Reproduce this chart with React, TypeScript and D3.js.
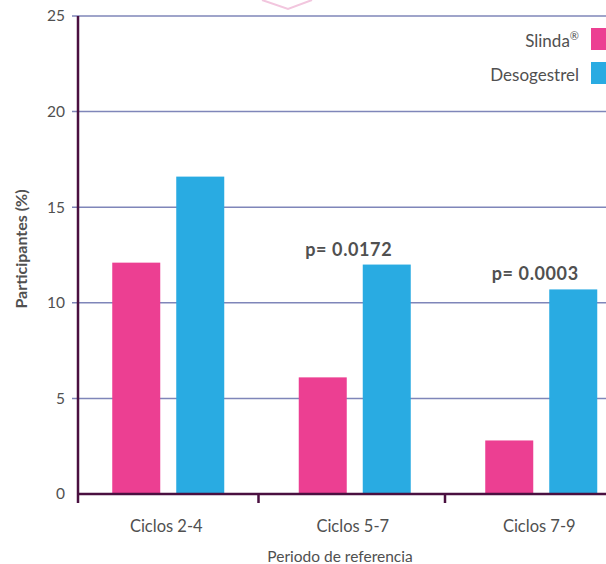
import React from "react";
import * as d3 from "d3";

const categories = ["Ciclos 2-4", "Ciclos 5-7", "Ciclos 7-9"];
const series = ["Slinda®", "Desogestrel"];
const slindaValues = [12.1, 6.1, 2.8];
const desogestrelValues = [16.6, 12.0, 10.7];
const pLabels = ["", "p= 0.0172", "p= 0.0003"];
const yTicks = [0, 5, 10, 15, 20, 25];

const colors: Record<string, string> = {
  "Slinda®": "#ec3f92",
  Desogestrel: "#29abe2",
};

const W = 606;
const H = 564;
const font = "Lato, 'Open Sans', sans-serif";
const textColor = "#505050";
const axisColor = "#4a1040";
const gridColor = "#7f86b9";

export default function App() {
  const y = d3.scaleLinear().domain([0, 25]).range([494, 16]);
  const x = d3.scaleBand<string>().domain(categories).range([75, 634.5]).padding(0);
  const groupW = 112;
  const inner = d3.scaleBand<string>().domain(series).range([0, groupW]).paddingInner(0.25).paddingOuter(0);
  const axisX = 78;
  const y0 = y(0);

  const rows = categories.map((c, i) => ({
    cat: c,
    vals: [slindaValues[i], desogestrelValues[i]],
    p: pLabels[i],
  }));

  const groupStart = (c: string) => (x(c) ?? 0) + (x.step() - groupW) / 2;

  return (
    <svg width={W} height={H} style={{ position: "absolute", left: 0, top: 0, background: "#fff" }} fontFamily={font}>
      {/* faint logo fragment at the top */}
      <polyline points="262,0 288,9 312,0" fill="none" stroke="#f2c6de" strokeWidth={2} />

      {/* gridlines + y tick labels */}
      {yTicks.map((t) => (
        <g key={t}>
          {t > 0 && (
            <line x1={72} x2={W} y1={y(t)} y2={y(t)} stroke={gridColor} strokeWidth={1.5} />
          )}
          <text x={65} y={y(t)} dy="0.35em" textAnchor="end" fontSize={15.5} fill={textColor}>
            {t}
          </text>
        </g>
      ))}

      {/* bars */}
      {rows.map((r) => (
        <g key={r.cat} transform={`translate(${groupStart(r.cat)},0)`}>
          {series.map((s, j) => (
            <rect
              key={s}
              x={inner(s)}
              y={y(r.vals[j])}
              width={inner.bandwidth()}
              height={y0 - y(r.vals[j])}
              fill={colors[s]}
            />
          ))}
          {r.p && (
            <text
              x={groupW / 2 - 6}
              y={y(r.vals[1]) - 9}
              textAnchor="middle"
              fontSize={18}
              letterSpacing={0.6}
              fontWeight="bold"
              fill={textColor}
            >
              {r.p}
            </text>
          )}
        </g>
      ))}

      {/* axes */}
      <line x1={axisX} x2={axisX} y1={y(25)} y2={y0 + 9} stroke={axisColor} strokeWidth={2.5} />
      <line x1={axisX} x2={W} y1={y0} y2={y0} stroke={axisColor} strokeWidth={2.5} />
      {categories.slice(1).map((c) => (
        <line key={c} x1={(x(c) ?? 0) - 3} x2={(x(c) ?? 0) - 3} y1={y0} y2={y0 + 9} stroke={axisColor} strokeWidth={2.5} />
      ))}

      {/* category labels */}
      {categories.map((c) => (
        <text key={c} x={groupStart(c) + groupW / 2 - 2} y={532} textAnchor="middle" fontSize={16.5} fill={textColor}>
          {c}
        </text>
      ))}

      {/* axis titles */}
      <text x={340} y={562} textAnchor="middle" fontSize={15.5} fill={textColor}>
        Periodo de referencia
      </text>
      <text
        transform={`translate(27,${249}) rotate(-90)`}
        textAnchor="middle"
        fontSize={16}
        fontWeight="bold"
        fill={textColor}
      >
        Participantes (%)
      </text>

      {/* legend */}
      {series.map((s, i) => (
        <g key={s} transform={`translate(0,${28 + i * 34})`}>
          <rect x={591} y={0} width={22} height={22} fill={colors[s]} />
          <text x={579} y={19} textAnchor="end" fontSize={17} fill={textColor}>
            {s === "Slinda®" ? (
              <>
                Slinda
                <tspan fontSize={11} dy={-7}>®</tspan>
              </>
            ) : (
              s
            )}
          </text>
        </g>
      ))}
    </svg>
  );
}
